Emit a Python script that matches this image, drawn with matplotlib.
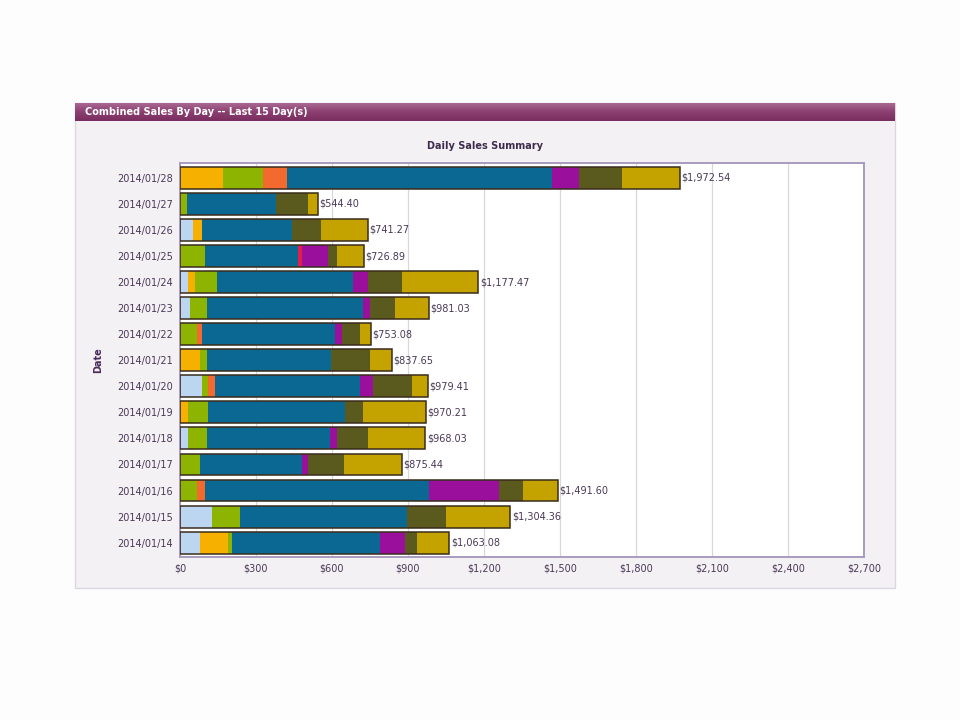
import numpy as np
import matplotlib
matplotlib.use('Agg')
import matplotlib.pyplot as plt
from matplotlib.patches import Rectangle
from matplotlib.colors import LinearSegmentedColormap

# ------------------------------------------------------------------------------
# Data (top row first)
# ------------------------------------------------------------------------------
dates = ["2014/01/28", "2014/01/27", "2014/01/26", "2014/01/25", "2014/01/24",
         "2014/01/23", "2014/01/22", "2014/01/21", "2014/01/20", "2014/01/19",
         "2014/01/18", "2014/01/17", "2014/01/16", "2014/01/15", "2014/01/14"]

light_blue = [0, 0, 50, 0, 33, 39.5, 0, 0, 86, 0, 33, 0, 0, 125, 79]
orange     = [170, 0, 35.5, 0, 26, 0, 0, 79, 0, 33, 0, 0, 0, 0, 112]
green      = [158, 28, 0, 99, 86, 66, 66, 26, 26, 79, 72.5, 79, 66, 112, 13]
orange_red = [95, 0, 0, 0, 0, 0, 20, 0, 26, 0, 0, 0, 33, 0, 0]
blue       = [1046, 352, 355, 368, 539, 618, 526, 493, 572, 540, 487, 401, 885, 658, 585]
red        = [0, 0, 0, 13, 0, 0, 0, 0, 0, 0, 0, 0, 0, 0, 0]
purple     = [107, 0, 0, 103, 59, 26, 26, 0, 52.5, 0, 26, 26, 275, 0, 99]
olive      = [170, 125, 118, 35.5, 132, 99, 72, 151, 151.5, 72, 125, 142, 96, 155, 48.5]
gold       = [226.54, 39.40, 182.77, 108.39, 302.47, 132.53, 43.08, 88.65, 65.41,
              246.21, 224.53, 227.44, 136.60, 254.36, 126.58]

totals = [1972.54, 544.40, 741.27, 726.89, 1177.47, 981.03, 753.08, 837.65, 979.41,
          970.21, 968.03, 875.44, 1491.60, 1304.36, 1063.08]

x_ticks = [0, 300, 600, 900, 1200, 1500, 1800, 2100, 2400, 2700]
x_tick_labels = ["$0", "$300", "$600", "$900", "$1,200", "$1,500", "$1,800",
                 "$2,100", "$2,400", "$2,700"]

series = [
    (light_blue, '#bcd6f2'),
    (orange,     '#f5b000'),
    (green,      '#8cb400'),
    (orange_red, '#f46a2e'),
    (blue,       '#0b6893'),
    (red,        '#e21e4c'),
    (purple,     '#9a109c'),
    (olive,      '#5b5a1e'),
    (gold,       '#c4a300'),
]

TEXT_COL = '#4a3856'

# ------------------------------------------------------------------------------
# Figure / panel
# ------------------------------------------------------------------------------
fig = plt.figure(figsize=(9.6, 7.2), dpi=100)
fig.patch.set_facecolor('#fdfdfd')

W, H = 960.0, 720.0
panel = Rectangle((75 / W, 1 - 588 / H), 820 / W, 485 / H, transform=fig.transFigure,
                  facecolor='#f4f1f5', edgecolor='#dcd6df', linewidth=1.0, zorder=-1)
fig.patches.append(panel)

# title bar with a vertical gradient
bar_ax = fig.add_axes([75 / W, 1 - 121 / H, 820 / W, 18 / H])
grad = np.linspace(0, 1, 64).reshape(-1, 1)
cmap = LinearSegmentedColormap.from_list('tb', ['#a86892', '#8b3f70', '#7a2d5f'])
bar_ax.imshow(grad, aspect='auto', cmap=cmap, extent=[0, 1, 0, 1])
bar_ax.set_axis_off()
bar_ax.text(0.012, 0.5, "Combined Sales By Day -- Last 15 Day(s)", color='white',
            fontsize=7, fontweight='bold', va='center', ha='left',
            transform=bar_ax.transAxes)

fig.text(485 / W, 1 - 146 / H, "Daily Sales Summary", ha='center', va='center',
         fontsize=7, fontweight='bold', color='#3e2c4c')

# ------------------------------------------------------------------------------
# Chart
# ------------------------------------------------------------------------------
ax = fig.add_axes([180 / W, 1 - 557 / H, 684 / W, 394 / H])
ax.set_facecolor('white')

y = np.arange(len(dates))
bar_h = 0.84
left = np.zeros(len(dates))
for vals, col in series:
    vals = np.array(vals, dtype=float)
    ax.barh(y, vals, left=left, height=bar_h, color=col, edgecolor='none', zorder=2)
    left += vals

# dark outline around each full bar
ax.barh(y, totals, height=bar_h, facecolor='none', edgecolor='#3a2c1c',
        linewidth=1.1, zorder=3)

for yi, tot in zip(y, totals):
    ax.text(tot + 6, yi, f"${tot:,.2f}", va='center', ha='left', fontsize=7,
            color=TEXT_COL, zorder=4)

ax.set_xlim(0, 2700)
ax.set_ylim(len(dates) - 0.45, -0.57)
ax.set_xticks(x_ticks)
ax.set_xticklabels(x_tick_labels)
ax.set_yticks(y)
ax.set_yticklabels(dates)
ax.tick_params(axis='both', length=0, labelsize=7, colors=TEXT_COL, pad=5)
ax.xaxis.grid(True, color='#d8d8dc', linewidth=0.9, zorder=1)
ax.set_axisbelow(True)
for sp in ax.spines.values():
    sp.set_color('#a99bbd')
    sp.set_linewidth(1.4)

ax.set_ylabel("Date", fontsize=7, fontweight='bold', color='#4a2a5c', labelpad=10)

fig.savefig("out.png", dpi=100, facecolor=fig.get_facecolor())
